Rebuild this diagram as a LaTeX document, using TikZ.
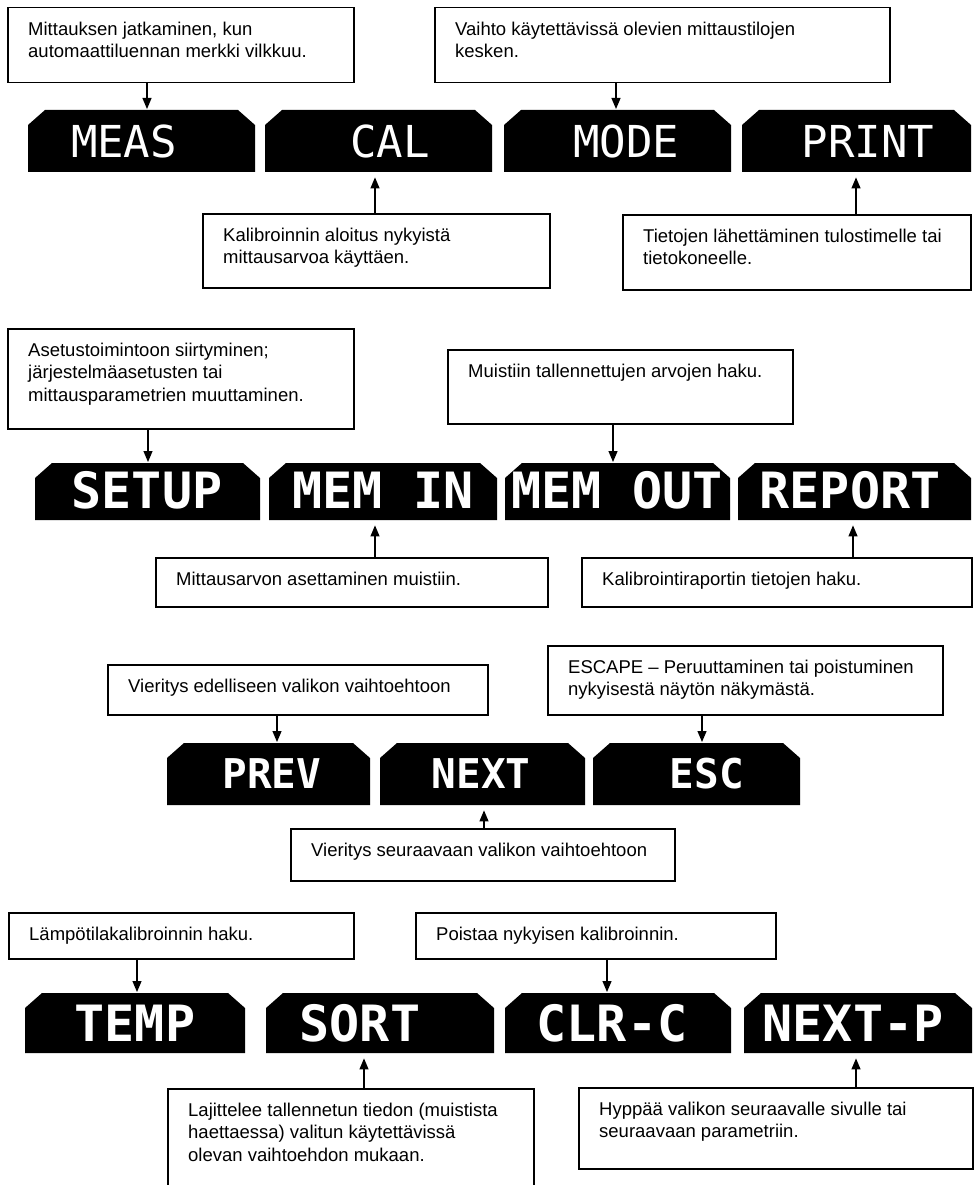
\documentclass[tikz,border=0pt]{standalone}
\usepackage{fontspec}
\setmainfont{Liberation Sans}
\newfontfamily\keyfont{DejaVu Sans Mono}
\usetikzlibrary{arrows.meta,calc}

\newcommand\mydesc[6]{% name, x1, y1, x2, y2, text
  \node[descbox, minimum width={#4pt-#2pt}, minimum height={#5pt-#3pt}] (#1) at (#2,#3) {};
  \node[desctext] (t#1) at ($(#1.north west)+(21,12.5)$) {\strut #6};
}
\newcommand\mykey[8]{% name, x1, x2, ytop, ybot, labelx, baseline, label
  \fill[keyfill] (#2,#5) -- (#2,#4+15) -- (#2+17,#4) -- (#3-17,#4) -- (#3,#4+15) -- (#3,#5) -- cycle;
  \node[keyarea, minimum width={#3pt-#2pt}, minimum height={#5pt-#4pt}] (#1) at (#2,#4) {};
  \node[keylabel] (l#1) at (#6,#7) {#8};
}

\begin{document}
\begin{tikzpicture}[x=1pt,y=-1pt,
  descbox/.style={draw, line width=1.5pt, inner sep=0pt, anchor=north west},
  desctext/.style={inner sep=0pt, anchor=north west, align=left, font=\fontsize{18.5}{22.5}\selectfont},
  keyfill/.style={fill=black},
  keyarea/.style={inner sep=0pt, anchor=north west},
  keylabel/.style={text=white, anchor=base, inner sep=0pt, font=\keyfont\fontsize{44}{44}\selectfont},
  boldlabel/.style={font=\keyfont\bfseries\fontsize{50}{50}\selectfont},
  midlabel/.style={font=\keyfont\bfseries\fontsize{41}{41}\selectfont},
  conn/.style={line width=1.2pt, -{Triangle[length=11pt,width=9pt]}},
  down/.style={conn, shorten >=1pt},
  up/.style={conn, shorten >=5pt},
]
\useasboundingbox (0,0) rectangle (977,1185);

% ---------------- Row 1
\mydesc{dMEAS}{7}{7}{353}{82}{Mittauksen jatkaminen, kun\\automaattiluennan merkki vilkkuu.}
\mydesc{dMODE}{434}{7}{889}{82}{Vaihto käytettävissä olevien mittaustilojen\\kesken.}
\mykey{kMEAS}{28}{255}{110}{172}{124}{158}{MEAS}
\mykey{kCAL}{265}{492}{110}{172}{390}{158}{CAL}
\mykey{kMODE}{504}{731}{110}{172}{626}{158}{MODE}
\mykey{kPRINT}{742}{971}{110}{172}{868}{158}{PRINT}
\mydesc{dCAL}{202}{213}{549}{287}{Kalibroinnin aloitus nykyistä\\mittausarvoa käyttäen.}
\mydesc{dPRINT}{622}{214}{970}{289}{Tietojen lähettäminen tulostimelle tai\\tietokoneelle.}
\coordinate (aMEAS) at (147,0);
\coordinate (aMODE) at (616,0);
\coordinate (aCAL) at (375,0);
\coordinate (aPRINT) at (856,0);
\draw[down] (aMEAS |- dMEAS.south) -- (aMEAS |- kMEAS.north);
\draw[down] (aMODE |- dMODE.south) -- (aMODE |- kMODE.north);
\draw[up] (aCAL |- dCAL.north) -- (aCAL |- kCAL.south);
\draw[up] (aPRINT |- dPRINT.north) -- (aPRINT |- kPRINT.south);

% ---------------- Row 2
\mydesc{dSETUP}{7}{328}{353}{428}{Asetustoimintoon siirtyminen;\\järjestelmäasetusten tai\\mittausparametrien muuttaminen.}
\mydesc{dMEMOUT}{447}{349}{792}{423}{Muistiin tallennettujen arvojen haku.}
\begin{scope}[keylabel/.append style={boldlabel}]
\mykey{kSETUP}{35}{260}{463}{520}{147}{508}{SETUP}
\mykey{kMEMIN}{269}{497}{463}{520}{383}{508}{MEM IN}
\mykey{kMEMOUT}{505}{730}{463}{520}{617}{508}{MEM OUT}
\mykey{kREPORT}{738}{971}{463}{520}{850}{508}{REPORT}
\end{scope}
\mydesc{dMEMIN}{155}{557}{547}{606}{Mittausarvon asettaminen muistiin.}
\mydesc{dREPORT}{581}{557}{971}{606}{Kalibrointiraportin tietojen haku.}
\coordinate (aSETUP) at (148,0);
\coordinate (aMEMOUT) at (613,0);
\coordinate (aMEMIN) at (375,0);
\coordinate (aREPORT) at (853,0);
\draw[down] (aSETUP |- dSETUP.south) -- (aSETUP |- kSETUP.north);
\draw[down] (aMEMOUT |- dMEMOUT.south) -- (aMEMOUT |- kMEMOUT.north);
\draw[up] (aMEMIN |- dMEMIN.north) -- (aMEMIN |- kMEMIN.south);
\draw[up] (aREPORT |- dREPORT.north) -- (aREPORT |- kREPORT.south);

% ---------------- Row 3
\mydesc{dPREV}{107}{664}{487}{714}{Vieritys edelliseen valikon vaihtoehtoon}
\mydesc{dESC}{547}{645}{942}{714}{ESCAPE – Peruuttaminen tai poistuminen\\nykyisestä näytön näkymästä.}
\begin{scope}[keylabel/.append style={midlabel}]
\mykey{kPREV}{167}{370}{743}{805}{272}{788}{PREV}
\mykey{kNEXT}{380}{585}{743}{805}{481}{788}{NEXT}
\mykey{kESC}{593}{800}{743}{805}{707}{788}{ESC}
\end{scope}
\mydesc{dNEXT}{290}{828}{674}{880}{Vieritys seuraavaan valikon vaihtoehtoon}
\coordinate (aPREV) at (277,0);
\coordinate (aESC) at (702,0);
\coordinate (aNEXT) at (484,0);
\draw[down] (aPREV |- dPREV.south) -- (aPREV |- kPREV.north);
\draw[down] (aESC |- dESC.south) -- (aESC |- kESC.north);
\draw[up] (aNEXT |- dNEXT.north) -- (aNEXT |- kNEXT.south);

% ---------------- Row 4
\mydesc{dTEMP}{8}{912}{353}{958}{Lämpötilakalibroinnin haku.}
\mydesc{dCLRC}{415}{912}{775}{958}{Poistaa nykyisen kalibroinnin.}
\begin{scope}[keylabel/.append style={boldlabel}]
\mykey{kTEMP}{25}{245}{993}{1053}{135}{1041}{TEMP}
\mykey{kSORT}{266}{494}{993}{1053}{360}{1041}{SORT}
\mykey{kCLRC}{505}{731}{993}{1053}{612}{1041}{CLR-C}
\mykey{kNEXTP}{744}{972}{993}{1053}{853}{1041}{NEXT-P}
\end{scope}
\mydesc{dSORT}{167}{1088}{533}{1200}{Lajittelee tallennetun tiedon (muistista\\haettaessa) valitun käytettävissä\\olevan vaihtoehdon mukaan.}
\mydesc{dNEXTP}{578}{1087}{972}{1168}{Hyppää valikon seuraavalle sivulle tai\\seuraavaan parametriin.}
\coordinate (aTEMP) at (137,0);
\coordinate (aCLRC) at (607,0);
\coordinate (aSORT) at (364,0);
\coordinate (aNEXTP) at (856,0);
\draw[down] (aTEMP |- dTEMP.south) -- (aTEMP |- kTEMP.north);
\draw[down] (aCLRC |- dCLRC.south) -- (aCLRC |- kCLRC.north);
\draw[up] (aSORT |- dSORT.north) -- (aSORT |- kSORT.south);
\draw[up] (aNEXTP |- dNEXTP.north) -- (aNEXTP |- kNEXTP.south);
\end{tikzpicture}
\end{document}
